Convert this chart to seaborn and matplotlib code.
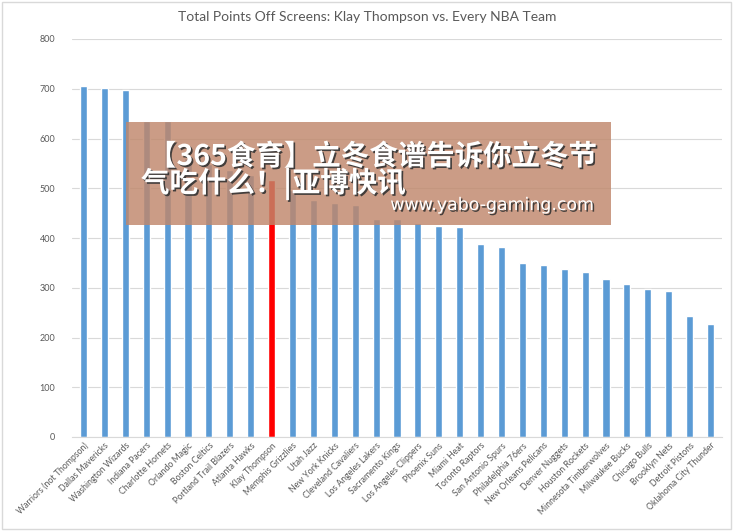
import matplotlib
matplotlib.use("Agg")
import matplotlib.pyplot as plt
import matplotlib.patheffects as pe
from matplotlib.patches import Rectangle
import seaborn as sns
import pandas as pd

teams = ["Warriors (not Thompson)", "Dallas Mavericks", "Washington Wizards", "Indiana Pacers",
         "Charlotte Hornets", "Orlando Magic", "Boston Celtics", "Portland Trail Blazers",
         "Atlanta Hawks", "Klay Thompson", "Memphis Grizzlies", "Utah Jazz", "New York Knicks",
         "Cleveland Cavaliers", "Los Angeles Lakers", "Sacramento Kings", "Los Angeles Clippers",
         "Phoenix Suns", "Miami Heat", "Toronto Raptors", "San Antonio Spurs",
         "Philadelphia 76ers", "New Orleans Pelicans", "Denver Nuggets", "Houston Rockets",
         "Minnesota Timberwolves", "Milwaukee Bucks", "Chicago Bulls", "Brooklyn Nets",
         "Detroit Pistons", "Oklahoma City Thunder"]
points = [705, 701, 697, 636, 635, 560, 548, 537, 526, 516, 497, 476, 471, 467, 439, 438,
          431, 424, 423, 388, 382, 349, 345, 337, 331, 317, 307, 298, 293, 244, 227]
yticks = [0, 100, 200, 300, 400, 500, 600, 700, 800]

title = "Total Points Off Screens: Klay Thompson vs. Every NBA Team"
wm_line1 = "【365食育】立冬食谱告诉你立冬节"
wm_line2 = "气吃什么！|亚博快讯"
wm_url = "www.yabo-gaming.com"

df = pd.DataFrame({"team": teams, "points": points})
palette = {t: ("#FF0000" if t == "Klay Thompson" else "#5B9BD5") for t in teams}

sns.set_theme(style="white")
plt.rcParams["font.family"] = ["Lato", "DejaVu Sans"]

fig = plt.figure(figsize=(7.35, 5.31), dpi=100)
ax = fig.add_axes([72 / 735, 1 - 437 / 531, 650 / 735, 398 / 531])

sns.barplot(data=df, x="team", y="points", hue="team", palette=palette, order=teams,
            hue_order=teams, width=0.34, legend=False, ax=ax, saturation=1)

ax.set_ylim(0, 800)
ax.set_xlim(-0.55, len(teams) - 0.45)
ax.set_yticks(yticks)
ax.set_yticklabels([str(v) for v in yticks], fontsize=6.5, color="#595959")
ax.yaxis.grid(True, color="#D9D9D9", linewidth=0.8)
ax.set_axisbelow(True)
ax.tick_params(axis="y", length=0, pad=12)
ax.tick_params(axis="x", length=0, pad=3)
ax.set_xticks(range(len(teams)))
ax.set_xticklabels(teams, rotation=45, ha="right", rotation_mode="anchor",
                   fontsize=6.3, color="#595959")
ax.set_xlabel("")
ax.set_ylabel("")
for s in ["top", "right", "left"]:
    ax.spines[s].set_visible(False)
ax.spines["bottom"].set_color("#D9D9D9")
ax.spines["bottom"].set_linewidth(0.8)

fig.text(367 / 735, 1 - 17 / 531, title, ha="center", va="center", fontsize=10,
         color="#595959")

# watermark overlay
fig.patches.append(Rectangle((126 / 735, 1 - 225 / 531), 485 / 735, 103 / 531,
                             transform=fig.transFigure, facecolor="#C0876B", alpha=0.82,
                             edgecolor="none", zorder=5))
shadow = [pe.withSimplePatchShadow(offset=(1.2, -1.2), shadow_rgbFace="#333333", alpha=0.9)]
cjk = ["Noto Sans CJK SC", "DejaVu Sans"]
fig.text(148 / 735, 1 - 157 / 531, wm_line1, ha="left", va="center", fontsize=20.5,
         fontweight="bold", color="white", family=cjk, zorder=6, path_effects=shadow)
fig.text(141 / 735, 1 - 184 / 531, wm_line2, ha="left", va="center", fontsize=20.5,
         fontweight="bold", color="white", family=cjk, zorder=6, path_effects=shadow)
fig.text(595 / 735, 1 - 205 / 531, wm_url, ha="right", va="center", fontsize=12.5,
         color="white", family=["DejaVu Sans"], zorder=6, path_effects=shadow)

# outer frame
fig.patches.append(Rectangle((2 / 735, 2 / 531), 729 / 735, 527 / 531, transform=fig.transFigure,
                             facecolor="none", edgecolor="#D9D9D9", linewidth=1, zorder=0))

fig.savefig("out.png", dpi=100)
